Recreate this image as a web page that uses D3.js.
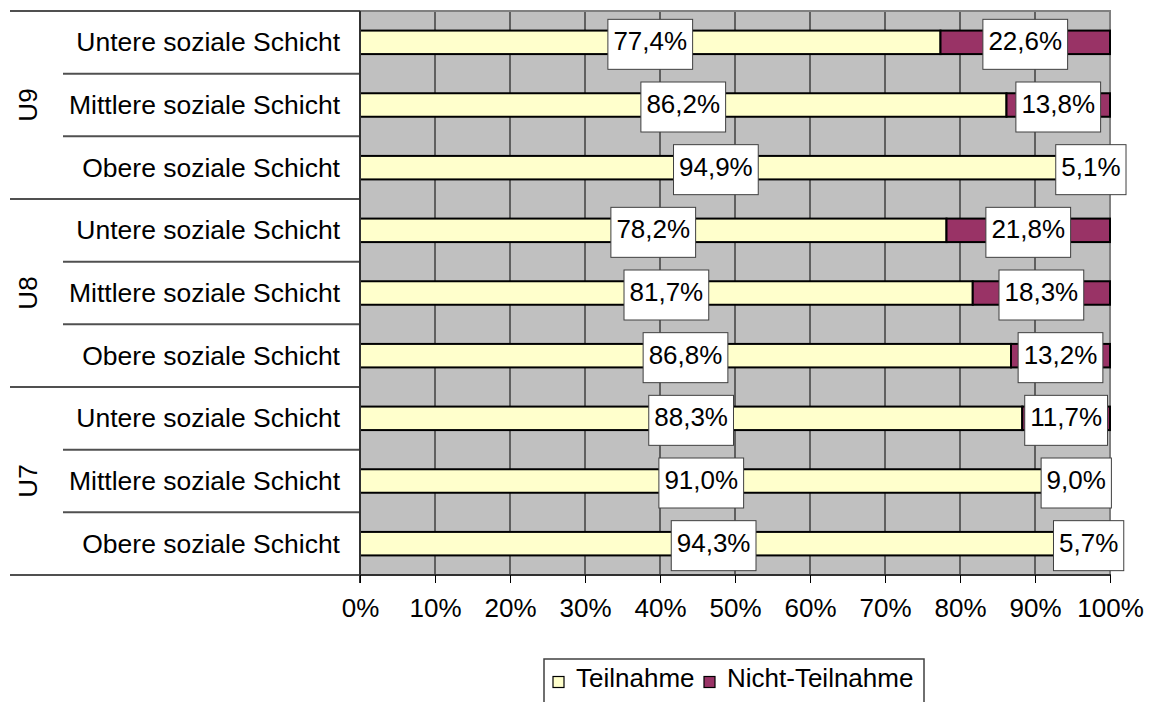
<!DOCTYPE html>
<html><head><meta charset="utf-8">
<script src="https://cdn.jsdelivr.net/npm/d3@7"></script>
<style>
html,body{margin:0;padding:0;background:#fff;}
svg{display:block;font-family:"Liberation Sans",Arial,sans-serif;}
</style></head>
<body>
<svg id="chart" width="1150" height="702"></svg>
<script>
const groups = ["U9", "U8", "U7"];
const classes = ["Untere soziale Schicht", "Mittlere soziale Schicht", "Obere soziale Schicht"];
const teilnahme = [77.4, 86.2, 94.9, 78.2, 81.7, 86.8, 88.3, 91.0, 94.3];
const nichtTeilnahme = [22.6, 13.8, 5.1, 21.8, 18.3, 13.2, 11.7, 9.0, 5.7];
const xTicks = [0, 10, 20, 30, 40, 50, 60, 70, 80, 90, 100];
const seriesNames = ["Teilnahme", "Nicht-Teilnahme"];
const seriesColors = ["#FFFFCC", "#993366"];

const svg = d3.select("#chart");
const L = 360, R = 1110, T = 11, B = 575;
const rows = teilnahme.map((v, i) => ({i, group: groups[Math.floor(i / 3)], cls: classes[i % 3], a: v, b: nichtTeilnahme[i]}));

const x = d3.scaleLinear().domain([0, 100]).range([L, R]);
const y = d3.scaleBand().domain(d3.range(rows.length)).range([T, B]).padding(0);
const bw = y.bandwidth();
const barH = bw * 0.375;

const de = d3.formatLocale({decimal: ",", thousands: ".", grouping: [3], currency: ["", "€"]});
const fmt = v => de.format(".1f")(v) + "%";

// plot background
svg.append("rect").attr("x", L).attr("y", T).attr("width", R - L).attr("height", B - T).attr("fill", "#C0C0C0");

// vertical gridlines
svg.append("g").selectAll("line").data(xTicks.slice(1, -1)).join("line")
  .attr("x1", d => x(d)).attr("x2", d => x(d)).attr("y1", T).attr("y2", B)
  .attr("stroke", "#000").attr("stroke-width", 1);

// plot border top/right
svg.append("path").attr("d", `M${L},${T}H${R}V${B}`).attr("fill", "none").attr("stroke", "#808080").attr("stroke-width", 2);

// bars
const bars = svg.append("g");
rows.forEach(r => {
  const yy = y(r.i) + (bw - barH) / 2;
  bars.append("rect").attr("x", x(0)).attr("y", yy).attr("width", x(r.a) - x(0)).attr("height", barH)
    .attr("fill", seriesColors[0]).attr("stroke", "#000").attr("stroke-width", 2);
  bars.append("rect").attr("x", x(r.a)).attr("y", yy).attr("width", x(r.a + r.b) - x(r.a)).attr("height", barH)
    .attr("fill", seriesColors[1]).attr("stroke", "#000").attr("stroke-width", 2);
});

// category axis lines (left)
const catG = svg.append("g");
d3.range(rows.length + 1).forEach(k => {
  const yy = k < rows.length ? y(k) : B;
  const isGroup = k % 3 === 0;
  catG.append("line").attr("x1", isGroup ? 10 : 63).attr("x2", L).attr("y1", yy).attr("y2", yy)
    .attr("stroke", "#505050").attr("stroke-width", 2);
});
// value axis line (left) and bottom
svg.append("line").attr("x1", L).attr("x2", L).attr("y1", T).attr("y2", 583).attr("stroke", "#303030").attr("stroke-width", 2);
svg.append("line").attr("x1", L).attr("x2", R + 1).attr("y1", B).attr("y2", B).attr("stroke", "#303030").attr("stroke-width", 2);

// category labels
svg.append("g").selectAll("text").data(rows).join("text")
  .attr("x", 340).attr("y", d => y(d.i) + bw / 2 + 9)
  .attr("text-anchor", "end").attr("font-size", 26.5).attr("fill", "#000")
  .text(d => d.cls);

// group labels
svg.append("g").selectAll("text").data(groups).join("text")
  .attr("transform", (g, gi) => `translate(37,${y(gi * 3) + bw * 1.5}) rotate(-90)`)
  .attr("text-anchor", "middle").attr("font-size", 26).attr("fill", "#000")
  .text(d => d);

// x axis
const xAxis = d3.axisBottom(x).tickValues(xTicks).tickFormat(d => d + "%").tickSize(8).tickPadding(16);
const ax = svg.append("g").attr("transform", `translate(0,${B})`).call(xAxis);
ax.select(".domain").remove();
ax.selectAll(".tick line").attr("stroke", "#000").attr("stroke-width", 1);
ax.selectAll(".tick text").attr("font-size", 26).attr("fill", "#000").attr("font-family", "Liberation Sans, Arial, sans-serif");

// data labels
const lab = svg.append("g");
rows.forEach(r => {
  [[r.a, r.a / 2], [r.b, r.a + r.b / 2]].forEach(([v, c]) => {
    const cy = y(r.i) + bw / 2;
    const g = lab.append("g");
    const rect = g.append("rect");
    const t = g.append("text").attr("x", x(c)).attr("y", cy + 8).attr("text-anchor", "middle")
      .attr("font-size", 26).attr("fill", "#000").text(fmt(v));
    const w = t.node().getComputedTextLength() + 11;
    rect.attr("x", x(c) - w / 2).attr("y", cy - 23).attr("width", w).attr("height", 50)
      .attr("fill", "#fff").attr("stroke", "#404040").attr("stroke-width", 1);
  });
});

// legend
const leg = svg.append("g");
leg.append("rect").attr("x", 544).attr("y", 659).attr("width", 380).attr("height", 60)
  .attr("fill", "#fff").attr("stroke", "#404040").attr("stroke-width", 1.5);
const legX = [553, 704];
seriesNames.forEach((n, i) => {
  leg.append("rect").attr("x", legX[i]).attr("y", 676.5).attr("width", 11).attr("height", 11)
    .attr("fill", seriesColors[i]).attr("stroke", "#000").attr("stroke-width", 1.2);
  leg.append("text").attr("x", legX[i] + 23).attr("y", 687).attr("font-size", 26).attr("fill", "#000").text(n);
});
</script>
</body></html>
